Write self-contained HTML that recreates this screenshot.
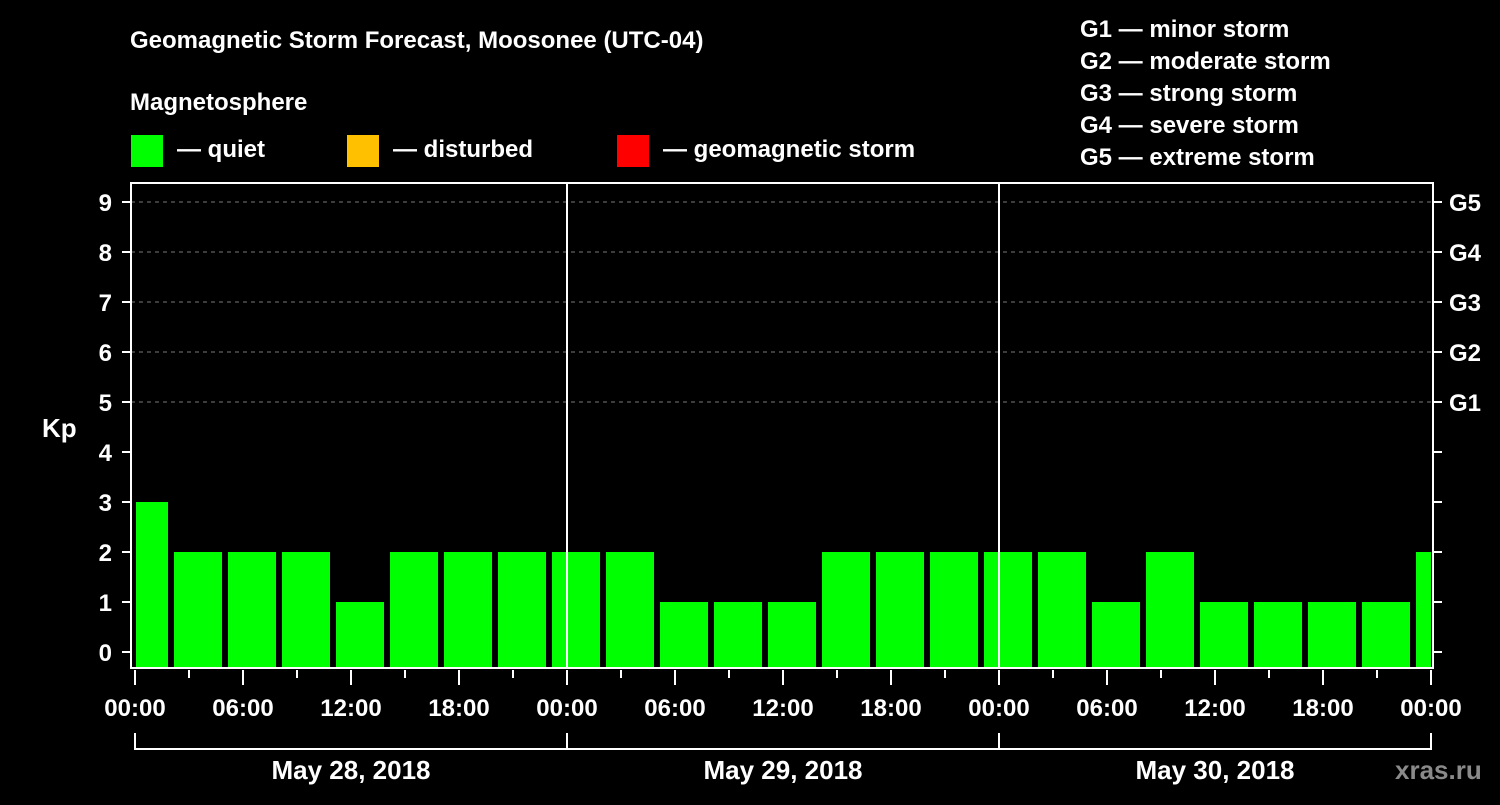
<!DOCTYPE html>
<html><head><meta charset="utf-8"><style>
body{margin:0;background:#000;width:1500px;height:800px;overflow:hidden}
svg text{font-family:"Liberation Sans",sans-serif;font-weight:bold;fill:#fff}
</style></head><body>
<svg id="chart" width="1500" height="800">
<text x="130" y="48" font-size="24">Geomagnetic Storm Forecast, Moosonee (UTC-04)</text>
<text x="130" y="110" font-size="24">Magnetosphere</text>
<g><rect x="131" y="135" width="32" height="32" fill="#00ff00"/><text x="177" y="157" font-size="24">— quiet</text></g>
<g><rect x="347" y="135" width="32" height="32" fill="#ffc000"/><text x="393" y="157" font-size="24">— disturbed</text></g>
<g><rect x="617" y="135" width="32" height="32" fill="#ff0000"/><text x="663" y="157" font-size="24">— geomagnetic storm</text></g>
<g font-size="24">
<text x="1080" y="37">G1 — minor storm</text>
<text x="1080" y="69">G2 — moderate storm</text>
<text x="1080" y="101">G3 — strong storm</text>
<text x="1080" y="133">G4 — severe storm</text>
<text x="1080" y="165">G5 — extreme storm</text>
</g>
<text x="42" y="437" font-size="26">Kp</text>
<g id="grid"></g><g id="bars"></g><g id="axes"></g>
<text x="1395" y="779" font-size="26" fill="#888" style="fill:#8a8a8a">xras.ru</text>
</svg>
<script>
const kpValues=[3,2,2,2,1,2,2,2,2,2,1,1,1,2,2,2,2,2,1,2,1,1,1,1,2];
const dayLabels=["May 28, 2018","May 29, 2018","May 30, 2018"];
const yTicks=[0,1,2,3,4,5,6,7,8,9];
const gLabels=["G1","G2","G3","G4","G5"];
const hourLabels=["00:00","06:00","12:00","18:00"];
const NS="http://www.w3.org/2000/svg";
const X0=135,PXH=18,L=131,R=1433,T=183,B=668;
const xh=h=>X0+h*PXH;
const yk=v=>652-50*v;
function mk(tag,attrs,parent,txt){const e=document.createElementNS(NS,tag);for(const k in attrs)e.setAttribute(k,attrs[k]);if(txt!==undefined)e.textContent=txt;parent.appendChild(e);return e;}
const grid=document.getElementById('grid'),bars=document.getElementById('bars'),axes=document.getElementById('axes');
for(let v=5;v<=9;v++){const g=mk('line',{x1:L,x2:R,y1:yk(v),y2:yk(v),stroke:'#777','stroke-dasharray':'4,4'},grid);

}
const totalH=dayLabels.length*24;
kpValues.forEach((v,i)=>{let h0=-1+3*i,h1=h0+3;let x0=Math.max(xh(h0)+3,L+5),x1=Math.min(xh(h1)-3,R-2);
const r=mk('rect',{x:x0,y:yk(v),width:x1-x0,height:B-yk(v),fill:v>=5?'#ff0000':(v>=4?'#ffc000':'#00ff00')},bars);

});
const fr=mk('rect',{x:L,y:T,width:R-L,height:B-T,fill:'none',stroke:'#fff','stroke-width':2},axes);


for(let d=1;d<dayLabels.length;d++){const l=mk('line',{x1:xh(d*24),x2:xh(d*24),y1:T,y2:B,stroke:'#fff','stroke-width':2},axes);

}
yTicks.forEach(v=>{mk('line',{x1:122,x2:L,y1:yk(v),y2:yk(v),stroke:'#fff','stroke-width':2},axes);
mk('line',{x1:R,x2:1442,y1:yk(v),y2:yk(v),stroke:'#fff','stroke-width':2},axes);
const t=mk('text',{x:112,y:yk(v)+9,'font-size':24,'text-anchor':'end'},axes,v);

});
gLabels.forEach((g,i)=>{const t=mk('text',{x:1449,y:yk(5+i)+9,'font-size':24},axes,g);

});
for(let h=0;h<=totalH;h+=3){const major=h%6===0;mk('line',{x1:xh(h),x2:xh(h),y1:B+2,y2:B+(major?17:10),stroke:'#fff','stroke-width':2},axes);
if(major){const t=mk('text',{x:xh(h),y:716,'font-size':24,'text-anchor':'middle'},axes,hourLabels[(h/6)%4]);

}}
dayLabels.forEach((d,i)=>{const a=xh(i*24),b=xh((i+1)*24);
mk('polyline',{points:`${a},733 ${a},749 ${b},749 ${b},733`,fill:'none',stroke:'#fff','stroke-width':2},axes);
const t=mk('text',{x:(a+b)/2,y:779,'font-size':26,'text-anchor':'middle'},axes,d);

});
</script>
</body></html>
